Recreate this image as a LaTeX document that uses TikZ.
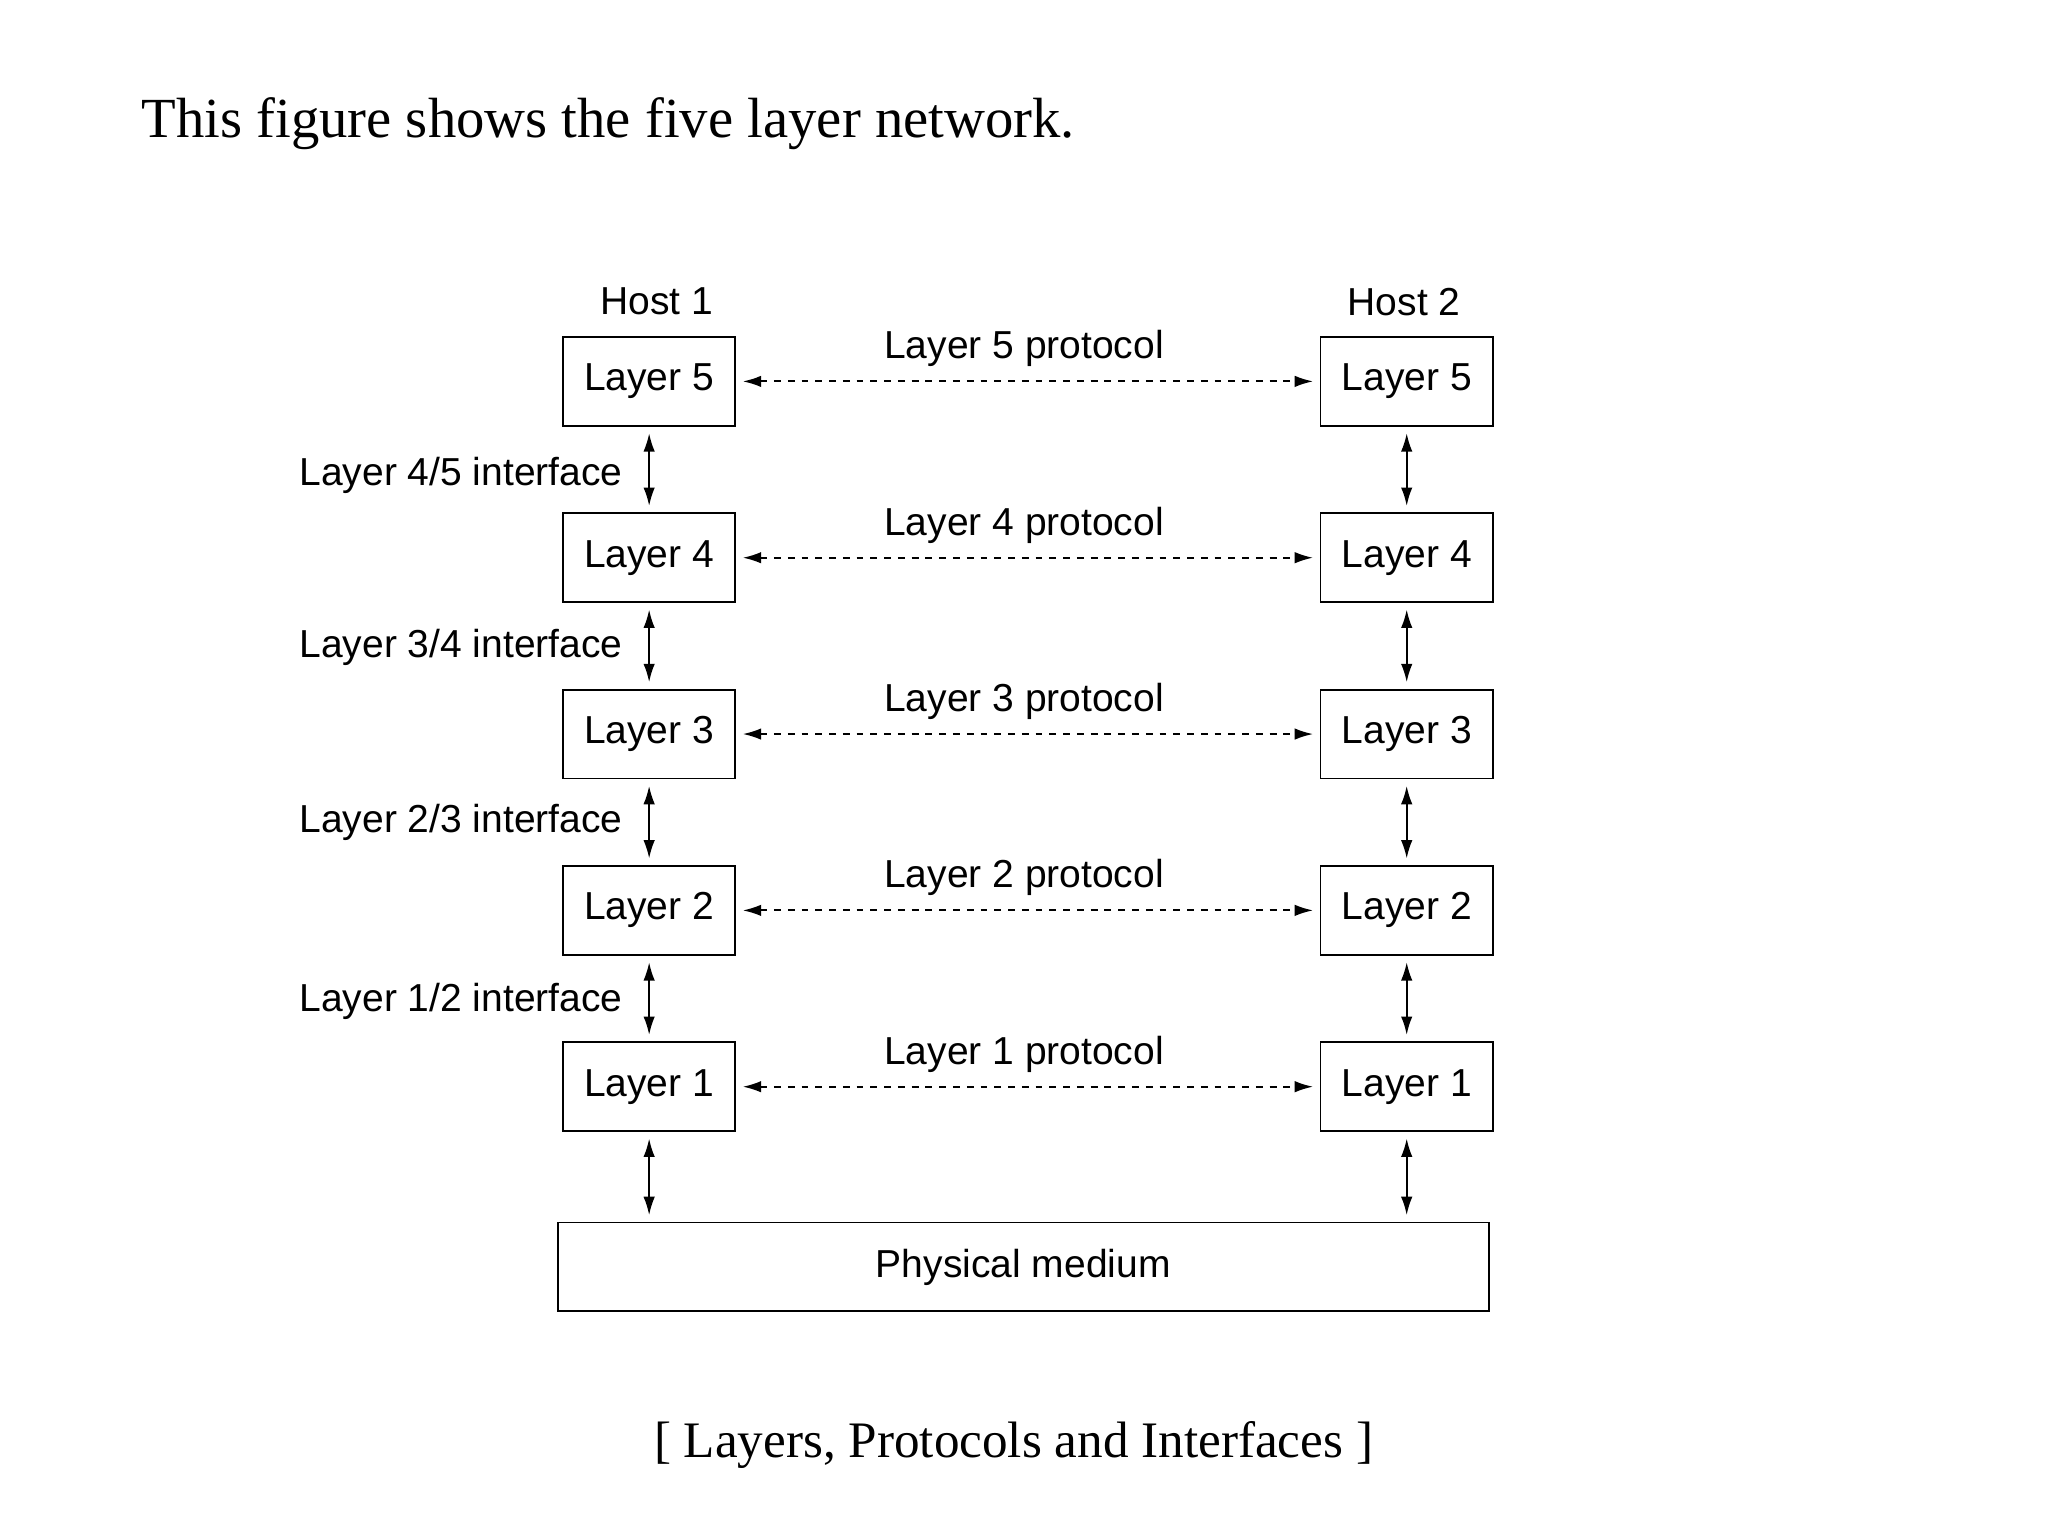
\documentclass[tikz,border=0pt]{standalone}
\usepackage{fontspec}
\setmainfont{Liberation Serif}
\newfontfamily\sansf{Liberation Sans}
\usetikzlibrary{arrows.meta}
\begin{document}
\begin{tikzpicture}[x=0.02cm,y=-0.02cm,
  box/.style={draw,thick,minimum width=2.64cm,minimum height=1.36cm,font=\sansf\fontsize{17}{20}\selectfont,inner sep=0pt},
  lbl/.style={font=\sansf\fontsize{17}{20}\selectfont,inner sep=0pt},
  proto/.style={dashed,thick,{Latex[length=8pt,width=5pt]}-{Latex[length=8pt,width=5pt]}},
  iface/.style={thick,{Latex[length=8pt,width=5pt]}-{Latex[length=8pt,width=5pt]}},
  big/.style={font=\fontsize{24.7}{28}\selectfont,inner sep=0pt}]
\useasboundingbox (0,0) rectangle (1568,1176);
\node[big,anchor=west] (title) at (108,95) {This figure shows the five layer network.};
\node[lbl] (h1) at (503,231) {Host 1};
\node[lbl] (h2) at (1075,231) {Host 2};
\foreach \n/\y in {5/292,4/427,3/562,2/697,1/832}{
  \node[box] (L\n) at (497,\y) {\raisebox{-2pt}{Layer \n}};
  \node[box] (R\n) at (1077,\y) {\raisebox{-2pt}{Layer \n}};
  \draw[proto] ([xshift=0.1cm]L\n.east) -- ([xshift=-0.1cm]R\n.west);
  \node[lbl] (p\n) at (784,\y-25) {Layer \n\ protocol};
}
\node[box,minimum width=14.26cm] (phys) at (783.5,970) {\raisebox{-2pt}{Physical medium}};
\foreach \u/\d in {5/4,4/3,3/2,2/1}{
  \draw[iface] ([yshift=-0.1cm]L\u.south) -- ([yshift=0.1cm]L\d.north);
  \draw[iface] ([yshift=-0.1cm]R\u.south) -- ([yshift=0.1cm]R\d.north);
}
\node[lbl,anchor=east] (i45) at (477,364) {Layer 4/5 interface};
\node[lbl,anchor=east] (i34) at (477,496) {Layer 3/4 interface};
\node[lbl,anchor=east] (i23) at (477,630) {Layer 2/3 interface};
\node[lbl,anchor=east] (i12) at (477,767) {Layer 1/2 interface};
\draw[iface] ([yshift=-0.1cm]L1.south) -- ([yshift=0.1cm]L1.south |- phys.north);
\draw[iface] ([yshift=-0.1cm]R1.south) -- ([yshift=0.1cm]R1.south |- phys.north);
\node[font=\fontsize{22.3}{26}\selectfont,inner sep=0pt] (cap) at (776,1106) {[ Layers, Protocols and Interfaces ]};
\end{tikzpicture}
\end{document}
